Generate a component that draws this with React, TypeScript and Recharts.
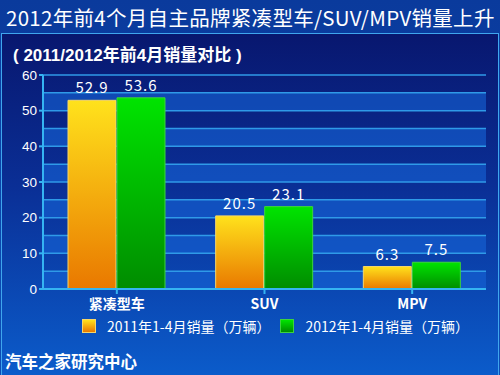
import React from 'react';
import { BarChart, Bar, XAxis, YAxis, CartesianGrid, LabelList } from 'recharts';

const categories = ['紧凑型车', 'SUV', 'MPV'];
const sales2011 = [52.9, 20.5, 6.3];
const sales2012 = [53.6, 23.1, 7.5];
const seriesNames = ['2011年1-4月销量（万辆）', '2012年1-4月销量（万辆）'];
const yTicks = [0, 10, 20, 30, 40, 50, 60];

const data = categories.map((c, i) => ({ name: c, s2011: sales2011[i], s2012: sales2012[i] }));

const FONT = '"Noto Sans CJK SC", "Noto Sans", sans-serif';
const LATIN = '"Liberation Sans", "Noto Sans CJK SC", sans-serif';

export default function App() {
  return (
    <div style={{ position: 'absolute', left: 0, top: 0, width: 500, height: 375, overflow: 'hidden', fontFamily: FONT, background: 'linear-gradient(#0a3a9c, #0d4db6)' }}>
      <div style={{ position: 'absolute', left: 1, top: 33, width: 496, height: 342, borderLeft: '1px solid #3fa6ee', borderRight: '1px solid #3fa6ee', borderTop: '1px solid #3fa6ee', background: 'linear-gradient(#08176f 0%, #0a2f96 45%, #0b5ccb 100%)' }} />
      <div style={{ position: 'absolute', left: 6, top: 2, width: 494, color: '#ffffff', fontSize: 20.5, lineHeight: '30px', whiteSpace: 'nowrap', letterSpacing: 0.3 }}>
        2012年前4个月自主品牌紧凑型车/SUV/MPV销量上升
      </div>
      <div style={{ position: 'absolute', left: 13, top: 47, color: '#ffffff', fontSize: 17, fontWeight: 700, lineHeight: '17px', whiteSpace: 'nowrap', fontFamily: LATIN }}>
        ( 2011/2012年前4月销量对比 )
      </div>
      <div style={{ position: 'absolute', left: 0, top: 0 }}>
        <BarChart width={500} height={375} data={data} margin={{ top: 75, right: 14, bottom: 61, left: 13 }} barCategoryGap={25} barGap={1}>
          <defs>
            <linearGradient id="gOrange" x1="0" y1="0" x2="0" y2="1">
              <stop offset="0%" stopColor="#ffe21c" />
              <stop offset="100%" stopColor="#e97800" />
            </linearGradient>
            <linearGradient id="gGreen" x1="0" y1="0" x2="0" y2="1">
              <stop offset="0%" stopColor="#00e400" />
              <stop offset="100%" stopColor="#008c00" />
            </linearGradient>
          </defs>
          <CartesianGrid
            vertical={false}
            stroke="#2f9ae8"
            strokeWidth={1.5}
            horizontalFill={['rgba(0,0,0,0)', 'rgba(22,100,215,0.6)']}
            horizontalCoordinatesGenerator={({ offset }: any) => {
              const pts: number[] = [];
              for (let i = 0; i <= 12; i++) pts.push(offset.top + (offset.height * i) / 12);
              return pts;
            }}
          />
          <XAxis
            dataKey="name"
            axisLine={{ stroke: '#35b4f2', strokeWidth: 2 }}
            tickLine={{ stroke: '#35b4f2', strokeWidth: 2 }}
            tickSize={5}
            height={25}
            interval={0}
            tick={{ fill: '#ffffff', fontSize: 14, fontWeight: 700, fontFamily: FONT }}
            tickMargin={5}
          />
          <YAxis
            domain={[0, 60]}
            ticks={yTicks}
            width={30}
            axisLine={{ stroke: '#35b4f2', strokeWidth: 2 }}
            tickLine={{ stroke: '#35b4f2', strokeWidth: 2 }}
            tickSize={4}
            tickMargin={2}
            tick={{ fill: '#ffffff', fontSize: 13.5, fontFamily: '"Liberation Sans", sans-serif' }}
          />
          <Bar dataKey="s2011" fill="url(#gOrange)" stroke="#f6d66a" strokeWidth={1} isAnimationActive={false}>
            <LabelList dataKey="s2011" position="top" offset={7} fill="#ffffff" fontSize={15} fontFamily={FONT} letterSpacing={1} formatter={(v: any) => Number(v).toFixed(1)} />
          </Bar>
          <Bar dataKey="s2012" fill="url(#gGreen)" stroke="#3ed23e" strokeWidth={1} isAnimationActive={false}>
            <LabelList dataKey="s2012" position="top" offset={7} fill="#ffffff" fontSize={15} fontFamily={FONT} letterSpacing={1} formatter={(v: any) => Number(v).toFixed(1)} />
          </Bar>
        </BarChart>
      </div>
      <div style={{ position: 'absolute', left: 82, top: 316, display: 'flex', alignItems: 'center', color: '#ffffff', fontSize: 14, whiteSpace: 'nowrap', lineHeight: '20px' }}>
        <span style={{ display: 'inline-block', width: 12, height: 12, background: 'linear-gradient(#ffe21c, #e97800)', border: '1px solid #f6d66a', marginRight: 11 }} />
        <span>{seriesNames[0]}</span>
        <span style={{ display: 'inline-block', width: 12, height: 12, background: 'linear-gradient(#00e400, #008c00)', border: '1px solid #3ed23e', marginLeft: 10, marginRight: 11 }} />
        <span>{seriesNames[1]}</span>
      </div>
      <div style={{ position: 'absolute', left: 5, top: 349, color: '#ffffff', fontSize: 16.5, fontWeight: 700, lineHeight: '24px', whiteSpace: 'nowrap' }}>
        汽车之家研究中心
      </div>
    </div>
  );
}
